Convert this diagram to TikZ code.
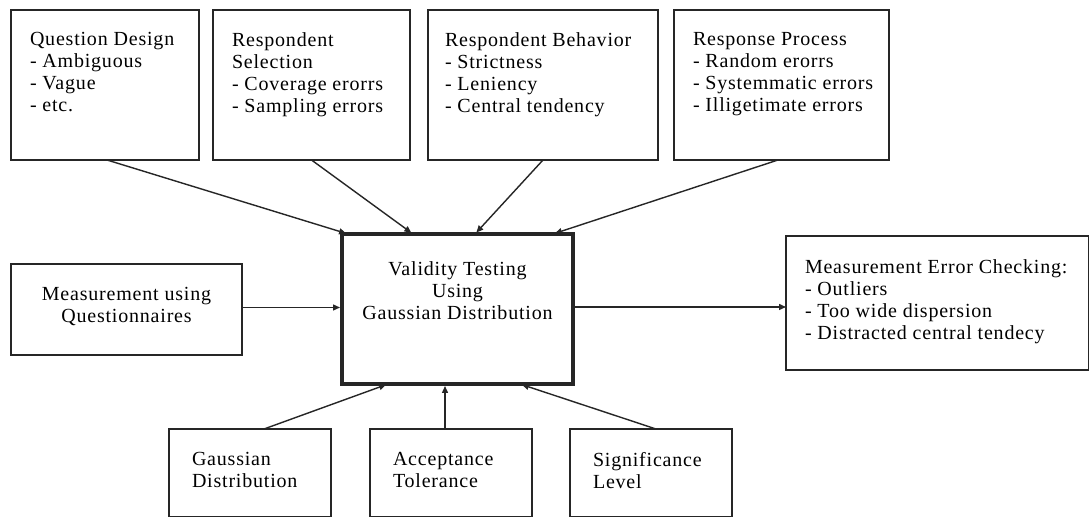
\documentclass[tikz,border=0pt]{standalone}
\usepackage{fontspec}
\setmainfont{Liberation Serif}[LetterSpace=4]
\usetikzlibrary{arrows.meta,calc}
\begin{document}
\begin{tikzpicture}[x=1pt,y=-1pt,
  box/.style={draw=black!85, line width=1.4pt, inner sep=0pt, outer sep=0pt, anchor=north west},
  mainbox/.style={box, line width=4pt},
  txt/.style={inner sep=0pt, outer sep=0pt, anchor=north west, align=left, font=\fontsize{20}{22}\selectfont},
  ctxt/.style={txt, anchor=north, align=center},
  conn/.style={draw=black!85, line width=1.4pt, -{Triangle[length=7pt,width=6pt]}},
  mconn/.style={conn, shorten >=2pt}]
\path[use as bounding box, fill=white] (0,0) rectangle (1090,518);
% top boxes
\node[box, minimum width=188pt, minimum height=150pt] (qd) at (11,10) {};
\node[box, minimum width=197pt, minimum height=150pt] (rs) at (213,10) {};
\node[box, minimum width=230pt, minimum height=150pt] (rb) at (428,10) {};
\node[box, minimum width=215pt, minimum height=150pt] (rp) at (674,10) {};
\node[txt] (qdt) at (30,32.3) {Question Design\\- Ambiguous\\- Vague\\- etc.};
\node[txt] (rst) at (232,32.3) {Respondent\\Selection\\- Coverage erorrs\\- Sampling errors};
\node[txt] (rbt) at (445,32.3) {Respondent Behavior\\- Strictness\\- Leniency\\- Central tendency};
\node[txt] (rpt) at (693,32.3) {Response Process\\- Random erorrs\\- Systemmatic errors\\- Illigetimate errors};
% centre
\node[mainbox, minimum width=231pt, minimum height=150pt] (vt) at (342,234) {};
\node[ctxt] (vtt) at (457.5,261.3) {Validity Testing\\Using\\Gaussian Distribution};
% left
\node[box, minimum width=231pt, minimum height=91pt] (mq) at (11,264) {};
\node[ctxt] (mqt) at (126.5,287.3) {Measurement using\\Questionnaires};
% right
\node[box, minimum width=302.5pt, minimum height=134pt] (mec) at (786,236) {};
\node[txt] (mect) at (805,259.3) {Measurement Error Checking:\\- Outliers\\- Too wide dispersion\\- Distracted central tendecy};
% bottom
\node[box, minimum width=162pt, minimum height=87.5pt] (gd) at (169,429) {};
\node[box, minimum width=162pt, minimum height=87.5pt] (at) at (370,429) {};
\node[box, minimum width=162pt, minimum height=87.5pt] (sl) at (570,429) {};
\node[txt] (gdt) at (192,452.3) {Gaussian\\Distribution};
\node[txt] (att) at (393,452.3) {Acceptance\\Tolerance};
\node[txt] (slt) at (593,452.3) {Significance\\Level};
% connectors
\draw[mconn] ([xshift=2pt]qd.south) -- ([xshift=6pt]vt.north west);
\draw[mconn] (rs.south) -- ([xshift=71pt]vt.north west);
\draw[mconn] (rb.south) -- ([xshift=133pt]vt.north west);
\draw[mconn] ([xshift=-3.5pt]rp.south) -- ([xshift=211pt]vt.north west);
\draw[mconn] ([yshift=2pt]mq.east) -- ([yshift=2pt]mq.east -| vt.west);
\draw[conn] ([yshift=2pt]vt.east) -- ([yshift=2pt]vt.east -| mec.west);
\draw[mconn] ([xshift=14pt]gd.north) -- ([xshift=46pt]vt.south west);
\draw[mconn] ([xshift=-6pt]at.north) -- ([xshift=-6pt]at.north |- vt.south);
\draw[mconn] ([xshift=5pt]sl.north) -- ([xshift=178pt]vt.south west);
\end{tikzpicture}
\end{document}
